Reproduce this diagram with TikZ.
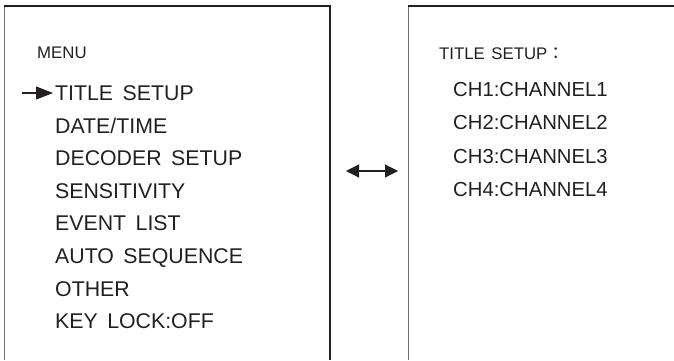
\documentclass[tikz,border=0pt]{standalone}
\usepackage{fontspec}
\setmainfont{Liberation Sans}
\newfontfamily\cjk{Noto Sans CJK JP}
\usetikzlibrary{arrows.meta}
\definecolor{ink}{HTML}{231F20}
\definecolor{edgegray}{HTML}{707070}
\newcommand\itemfont{\fontsize{21.3}{25}\selectfont\spaceskip=9.5pt plus 1pt minus 1pt\relax}
\newcommand\headfont{\fontsize{16.8}{20}\selectfont\spaceskip=6.5pt plus 1pt minus 1pt\relax}
\newcommand\chanfont{\fontsize{20.3}{25}\selectfont}
\begin{document}
\begin{tikzpicture}[x=1pt,y=-1pt,
  item/.style={anchor=base west,inner sep=0pt,text=ink,font=\itemfont},
  chan/.style={anchor=base west,inner sep=0pt,text=ink,font=\chanfont},
  head/.style={anchor=base west,inner sep=0pt,text=ink,font=\headfont},
  frame/.style={draw=ink,line width=1.3pt},
  side/.style={draw=edgegray,line width=1.3pt}]
\useasboundingbox (0,0) rectangle (674,360);
% left panel
\draw[side] (4.5,360) -- (4.5,6);
\draw[frame] (3.9,6) -- (330,6) -- (330,360);
% right panel
\draw[side] (408.5,360) -- (408.5,6);
\draw[frame] (407.9,6) -- (674,6);
% left texts
\node[head] (menu) at (37,58) {MENU};
\foreach \t [count=\i] in {TITLE SETUP,DATE/TIME,DECODER SETUP,SENSITIVITY,EVENT LIST,AUTO SEQUENCE,OTHER,KEY LOCK:OFF}{
  \node[item] (m\i) at (55,{100.5+32.6*(\i-1)}) {\t};
}
\coordinate (ptr) at (22,93);
\draw[ink,line width=1.1pt,-{Triangle[length=17pt,width=13pt]},shorten >=2pt] (ptr) -- (ptr -| m1.west);
% right texts
\node[head] (title) at (439,59.5) {TITLE SETUP\cjk{：}};
\foreach \t [count=\i] in {CH1:CHANNEL1,CH2:CHANNEL2,CH3:CHANNEL3,CH4:CHANNEL4}{
  \node[chan] (c\i) at (453,{96.5+33.4*(\i-1)}) {\t};
}
% double arrow
\coordinate (la) at (346,171);
\coordinate (lb) at (398,171);
\draw[ink,line width=1.1pt,{Triangle[length=13pt,width=13pt]}-{Triangle[length=13pt,width=13pt]}] (la) -- (lb);
\end{tikzpicture}
\end{document}
